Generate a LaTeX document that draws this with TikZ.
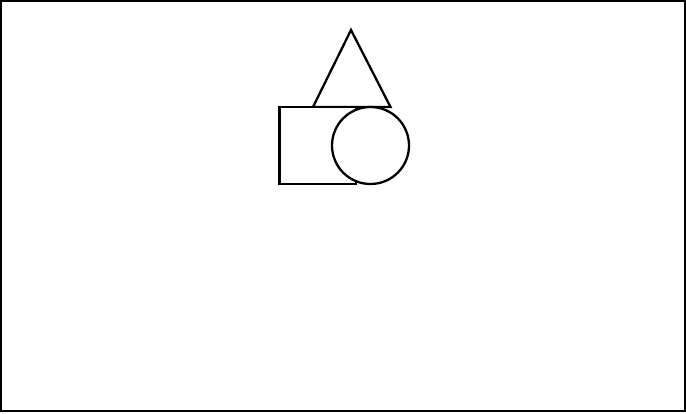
\documentclass[tikz,border=0pt]{standalone}
\begin{document}
\begin{tikzpicture}[x=1pt,y=-1pt,
  shapeline/.style={draw=black,line width=2.3pt,fill=white,line join=miter}]
\useasboundingbox (0,0) rectangle (686,413);
\draw[line width=2.3pt] (1,1) rectangle (685.5,411.2);
% triangle
\draw[shapeline] (351,30) -- (390.5,107) -- (313,107) -- cycle;
% square
\draw[shapeline] (279.5,107) rectangle (356,184);
% circle
\draw[shapeline] (370.5,145.5) circle (38.5);
\end{tikzpicture}
\end{document}
